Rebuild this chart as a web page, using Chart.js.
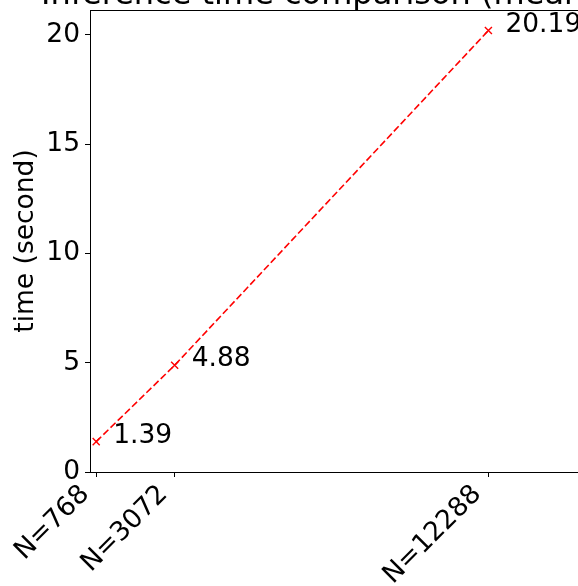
<!DOCTYPE html>
<html>
<head>
<meta charset="utf-8">
<script src="https://cdn.jsdelivr.net/npm/chart.js@4/dist/chart.umd.min.js"></script>
<style>
  html, body { margin: 0; padding: 0; background: #fff; overflow: hidden; }
  #wrap { position: relative; width: 578px; height: 586px; }
</style>
</head>
<body>
<div id="wrap"><canvas id="c"></canvas></div>
<script>
// Inference time measured for each problem size N
const titleText = 'Inference time comparison (mean)';
const yAxisTitle = 'time (second)';
const sizes = [768, 3072, 12288];
const times = [1.39, 4.88, 20.19];
const yTickValues = [0, 5, 10, 15, 20];

const FONT = 'DejaVu Sans';
const FONT_SIZE = 26.5;
const points = sizes.map((n, i) => ({ x: n, y: times[i] }));

// Frame line on top, the value labels next to each point and the title
const decorations = {
  id: 'decorations',
  afterDatasetsDraw(chart) {
    const { ctx, chartArea } = chart;
    ctx.save();
    ctx.strokeStyle = '#000';
    ctx.lineWidth = 1;
    ctx.beginPath();
    ctx.moveTo(chartArea.left, chartArea.top + 0.5);
    ctx.lineTo(chartArea.right, chartArea.top + 0.5);
    ctx.stroke();

    const meta = chart.getDatasetMeta(0);
    ctx.fillStyle = '#000';
    ctx.font = FONT_SIZE + 'px "' + FONT + '"';
    ctx.textAlign = 'left';
    ctx.textBaseline = 'alphabetic';
    meta.data.forEach((el, i) => {
      ctx.fillText(times[i].toFixed(2), el.x + 17, el.y + 1);
    });

    ctx.font = '32px "' + FONT + '"';
    ctx.fillText(titleText, 41, 4);
    ctx.restore();
  }
};

new Chart(document.getElementById('c'), {
  type: 'line',
  data: {
    datasets: [{
      data: points,
      borderColor: '#ff0000',
      backgroundColor: '#ff0000',
      borderWidth: 1.6,
      borderDash: [7, 3],
      pointStyle: 'crossRot',
      pointRadius: 5,
      pointBorderWidth: 1.4,
      pointHoverRadius: 5,
      tension: 0,
      fill: false
    }]
  },
  options: {
    responsive: true,
    maintainAspectRatio: false,
    animation: false,
    events: [],
    layout: { autoPadding: false, padding: { top: 10, left: 0, right: 0, bottom: 0 } },
    plugins: { legend: { display: false }, tooltip: { enabled: false }, title: { display: false } },
    scales: {
      x: {
        type: 'linear',
        min: 586,
        max: 14920,
        afterBuildTicks(scale) { scale.ticks = sizes.map(v => ({ value: v })); },
        afterFit(scale) {
          scale.height = 114;
          scale.paddingLeft = 0; scale.paddingRight = 0;
        },
        ticks: {
          autoSkip: false,
          minRotation: 45,
          maxRotation: 45,
          padding: 2,
          labelOffset: -11,
          color: '#000',
          font: { family: FONT, size: FONT_SIZE },
          callback: v => 'N=' + v
        },
        grid: { drawOnChartArea: false, drawTicks: true, tickLength: 5, color: '#000', lineWidth: 1 },
        border: { display: true, color: '#000', width: 1 }
      },
      y: {
        type: 'linear',
        min: 0,
        max: 21.13,
        afterBuildTicks(scale) { scale.ticks = yTickValues.map(v => ({ value: v })); },
        afterFit(scale) {
          scale.width = 90;
          scale.paddingTop = 0; scale.paddingBottom = 0;
        },
        ticks: {
          padding: 5,
          color: '#000',
          font: { family: FONT, size: FONT_SIZE },
          callback: v => String(v)
        },
        title: {
          display: true,
          text: yAxisTitle,
          color: '#000',
          font: { family: FONT, size: FONT_SIZE },
          padding: { top: 10, bottom: 0 }
        },
        grid: { drawOnChartArea: false, drawTicks: true, tickLength: 5, color: '#000', lineWidth: 1 },
        border: { display: true, color: '#000', width: 1 }
      }
    }
  },
  plugins: [decorations]
});
</script>
</body>
</html>
